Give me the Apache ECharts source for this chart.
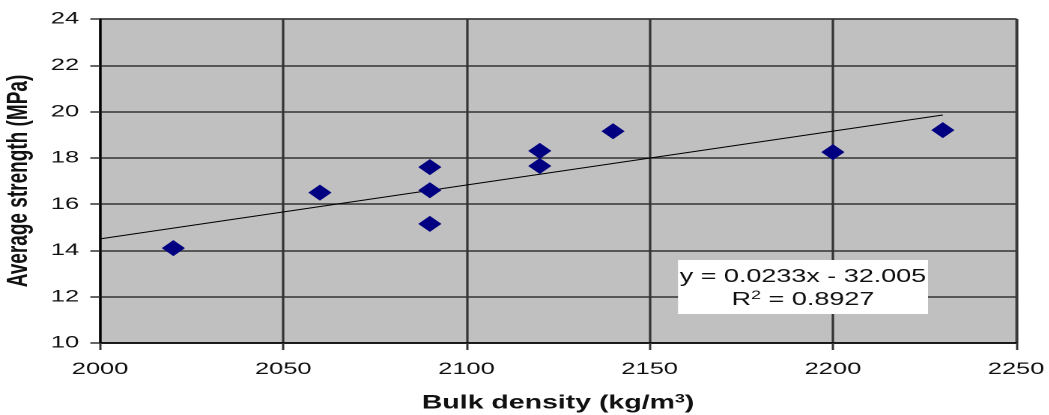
<!DOCTYPE html>
<html>
<head>
<meta charset="utf-8">
<script src="https://cdn.jsdelivr.net/npm/echarts@6/dist/echarts.min.js"></script>
<style>
html,body{margin:0;padding:0;background:#fff;overflow:hidden;width:1049px;height:415px}
#wrap{position:absolute;left:0;top:0;width:1049px;height:415px;overflow:hidden}
#c{position:absolute;left:0;top:0;width:700px;height:415px;transform:scaleX(1.498);transform-origin:0 0}
</style>
</head>
<body>
<div id="wrap"><div id="c"></div></div>
<script>
const density = [2020, 2060, 2090, 2090, 2090, 2120, 2120, 2140, 2200, 2230];
const strength = [14.1, 16.5, 17.6, 16.6, 15.15, 18.3, 17.65, 19.15, 18.25, 19.2];
const trendX = [2000, 2230];
const trendY = [14.5, 19.85];
const equationText = 'y = 0.0233x - 32.005';
const r2Text = '0.8927';
const xTitle = 'Bulk density (kg/m{sup|3})';
const yTitle = 'Average strength (MPa)';

const chart = echarts.init(document.getElementById('c'), null, { devicePixelRatio: 2 });
const font = 'Liberation Sans, Arial, sans-serif';
const ink = '#111';
chart.setOption({
  animation: false,
  backgroundColor: '#fff',
  grid: { left: 66.8, right: 21.7, top: 19, bottom: 72, containLabel: false, outerBoundsMode: 'none',
    show: true, backgroundColor: '#c0c0c0', borderColor: '#7a7a7a', borderWidth: 1.5 },
  xAxis: {
    type: 'value', min: 2000, max: 2250, interval: 50,
    name: xTitle, nameLocation: 'middle', nameGap: 50,
    nameTextStyle: { fontFamily: font, fontSize: 19, fontWeight: 'bold', color: ink,
      rich: { sup: { fontSize: 12, fontWeight: 'bold', verticalAlign: 'top', padding: [0,0,9,0], color: ink, fontFamily: font } } },
    axisLine: { show: true, lineStyle: { color: '#000', width: 1.5 } },
    axisTick: { show: true, length: 7, lineStyle: { color: '#333', width: 1.5 } },
    axisLabel: { fontFamily: font, fontSize: 17, color: ink, margin: 18, formatter: v => String(v) },
    splitLine: { show: true, lineStyle: { color: '#333', width: 1.6 } }
  },
  yAxis: {
    type: 'value', min: 10, max: 24, interval: 2,
    name: yTitle, nameLocation: 'middle', nameGap: 44.7, nameRotate: 90,
    nameTextStyle: { fontFamily: font, fontSize: 19, fontWeight: 'bold', color: ink },
    axisLine: { show: true, lineStyle: { color: '#000', width: 1.5 } },
    axisTick: { show: true, length: 6.5, lineStyle: { color: '#333', width: 1.5 } },
    axisLabel: { fontFamily: font, fontSize: 17, color: ink, margin: 14 },
    splitLine: { show: true, lineStyle: { color: '#333', width: 1.6 } }
  },
  series: [
    {
      type: 'line',
      data: trendX.map((x, i) => [x, trendY[i]]),
      symbol: 'none',
      lineStyle: { color: '#000', width: 1 },
      z: 2
    },
    {
      type: 'scatter',
      data: density.map((x, i) => [x, strength[i]]),
      symbol: 'diamond',
      symbolSize: [15.5, 16],
      itemStyle: { color: '#000080', opacity: 1 },
      z: 3
    }
  ],
  graphic: [
    { type: 'rect', z: 10, shape: { x: 452.6, y: 260, width: 166.9, height: 54 }, style: { fill: '#fff' } },
    { type: 'text', z: 11,
      style: { x: 536, y: 277, text: equationText, textAlign: 'center', textVerticalAlign: 'middle', fontFamily: font, fontSize: 18, fill: ink } },
    { type: 'text', z: 11,
      style: { x: 536, y: 300, textAlign: 'center', textVerticalAlign: 'middle',
        text: 'R{sup|2} = ' + r2Text,
        rich: { sup: { fontSize: 12, verticalAlign: 'top', padding: [0,0,9,0], fill: ink, fontFamily: font } },
        fontFamily: font, fontSize: 18, fill: ink } }
  ]
});
</script>
</body>
</html>
